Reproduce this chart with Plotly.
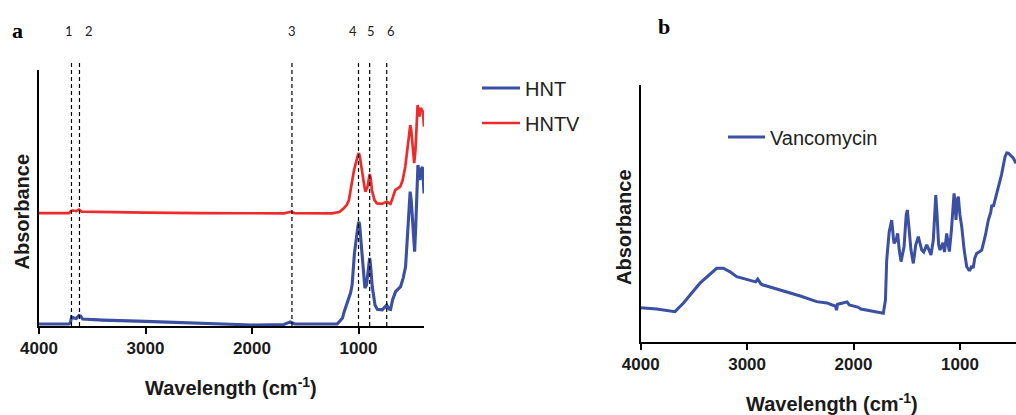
import plotly.graph_objects as go

# ---------------- Panel a: HNT and HNTV FTIR spectra ----------------
hnt_wn = [4000, 3720, 3705, 3695, 3670, 3650, 3625, 3610, 3590, 3400, 3000, 2500,
          2000, 1700, 1640, 1600, 1300, 1200, 1150, 1138, 1106, 1075, 1060, 1038,
          1006, 998, 990, 965, 940, 925, 912, 895, 886, 871, 845, 824, 777, 745,
          735, 712, 699, 680, 652, 605, 580, 558, 535, 515, 505, 495, 473, 462,
          454, 442, 432, 424, 412, 401, 392, 385]
hnt_abs = [0.8, 0.8, 1.2, 3.5, 3.1, 2.9, 4.1, 3.9, 2.7, 2.3, 1.8, 1.0,
           0.4, 0.6, 1.6, 0.8, 0.6, 0.8, 3.1, 5.1, 9.1, 12.9, 16.0, 28.5,
           38.8, 40.7, 39.8, 28.5, 14.8, 16.0, 19.9, 26.6, 23.4, 15.4, 8.2, 6.5, 6.3, 7.8,
           8.2, 6.6, 6.5, 10.2, 13.4, 15.4, 18.8, 23.2, 41.4, 52.5, 49.2, 41.4, 29.0, 39.5,
           50.5, 62.9, 60.2, 57.0, 60.9, 62.2, 57.8, 51.8]

hntv_wn = [4000, 3720, 3700, 3680, 3650, 3625, 3600, 3400, 3000, 2500, 2000, 1700,
           1640, 1600, 1250, 1180, 1138, 1110, 1090, 1080, 1042, 1005, 997, 988,
           970, 950, 936, 915, 895, 886, 874, 850, 827, 780, 745, 735, 715, 700,
           680, 655, 608, 585, 561, 535, 514, 505, 498, 477, 465, 458, 445, 435,
           427, 415, 405, 395, 385]
hntv_abs = [44.1, 44.1, 44.9, 45.1, 44.9, 45.5, 44.7, 44.5, 44.3, 44.1, 43.9, 44.0,
            44.6, 44.1, 44.0, 44.5, 46.0, 47.3, 49.2, 52.0, 60.9, 66.8, 67.5, 66.4,
            62.2, 55.9, 52.5, 54.4, 59.4, 57.8, 53.1, 49.2, 47.9, 47.7, 48.4, 48.6, 48.0, 47.7,
            50.0, 53.1, 54.4, 57.0, 62.2, 72.7, 78.5, 76.6, 72.7, 63.6, 68.8, 76.6, 86.3, 84.4,
            81.8, 85.2, 84.4, 83.6, 77.9]

# marked bands (cm-1) and their numbers
band_wn = [3695, 3620, 1625, 1000, 895, 735]
band_labels = ["1", "2", "3", "4", "5", "6"]
band_label_wn = [3718, 3531, 1624, 1054, 885, 698]

# ---------------- Panel b: vancomycin spectrum ----------------
vanco_wn = [4000, 3850, 3678, 3600, 3443, 3286, 3224, 3160, 3098, 3050, 2973, 2920,
            2900, 2870, 2848, 2750, 2628, 2500, 2346, 2250, 2200, 2170, 2160, 2150,
            2100, 2060, 2040, 2000, 1960, 1930, 1876, 1800, 1720, 1700, 1688, 1665,
            1641, 1625, 1619, 1600, 1585, 1570, 1553, 1525, 1505, 1494, 1480, 1460,
            1438, 1415, 1391, 1375, 1359, 1340, 1312, 1290, 1272, 1250, 1235, 1227,
            1215, 1200, 1187, 1160, 1145, 1124, 1110, 1099, 1080, 1065, 1055, 1045,
            1037, 1025, 1015, 1000, 983, 960, 936, 915, 905, 890, 875, 860, 842, 820,
            795, 760, 733, 710, 700, 686, 660, 639, 610, 576, 560, 545, 520, 500, 473]
vanco_abs = [13.2, 12.7, 11.7, 15.0, 22.8, 28.6, 28.6, 27.2, 25.3, 24.8, 24.0, 23.3,
             24.4, 22.5, 22.1, 20.9, 19.5, 17.8, 15.6, 15.1, 14.3, 13.9, 12.3, 14.6,
             15.1, 15.5, 14.3, 13.9, 13.5, 12.7, 12.3, 11.6, 11.1, 16.2, 31.8, 42.7,
             47.4, 40.4, 38.3, 39.6, 42.2, 35.7, 31.2, 37.0, 49.4, 51.3, 45.5, 35.7,
             30.5, 37.7, 40.9, 37.7, 35.7, 34.9, 37.7, 35.7, 33.8, 39.6, 55.2, 57.1,
             49.4, 37.7, 35.7, 38.5, 34.9, 42.2, 37.7, 35.1, 43.5, 55.2, 57.8, 53.3,
             47.4, 55.2, 56.5, 49.4, 44.8, 35.7, 29.2, 27.9, 27.9, 29.5, 28.7, 32.6, 34.4, 34.9,
             35.7, 41.6, 47.4, 50.5, 53.3, 52.6, 56.8, 60.4, 64.9, 72.1, 73.5, 73.4, 72.3, 71.6, 69.5]

x_ticks = [4000, 3000, 2000, 1000]

BLUE = "#3b4fa3"
RED = "#ee2b2b"
SANS = "Liberation Sans, Arial, sans-serif"
SERIF = "Liberation Serif, Times New Roman, serif"

W, H = 1016, 415


def px_x(p):
    return p / W


def px_y(p):
    return 1 - p / H


fig = go.Figure()

fig.add_trace(go.Scatter(x=hnt_wn, y=hnt_abs, mode="lines", name="HNT",
                         line=dict(color=BLUE, width=3.1), xaxis="x", yaxis="y",
                         legend="legend"))
fig.add_trace(go.Scatter(x=hntv_wn, y=hntv_abs, mode="lines", name="HNTV",
                         line=dict(color=RED, width=2.7), xaxis="x", yaxis="y",
                         legend="legend2"))
fig.add_trace(go.Scatter(x=vanco_wn, y=vanco_abs, mode="lines", name="Vancomycin",
                         line=dict(color=BLUE, width=3.0), xaxis="x2", yaxis="y2",
                         legend="legend3"))

axis_common = dict(
    showline=True, linecolor="black", linewidth=2,
    showgrid=False, zeroline=False, automargin=False,
    ticks="outside", ticklen=6, tickwidth=2, tickcolor="black",
    tickvals=x_ticks, ticktext=[str(t) for t in x_ticks],
    tickfont=dict(family=SANS, size=17, color="#1a1a1a", weight="bold"),
)
yaxis_common = dict(showline=True, linecolor="black", linewidth=2, showgrid=False,
                    zeroline=False, showticklabels=False, ticks="", range=[0, 100],
                    fixedrange=True, automargin=False)

legend_font = dict(family=SANS, size=20, color="#222")

fig.update_layout(
    width=W, height=H,
    margin=dict(l=0, r=0, t=0, b=0, autoexpand=False),
    paper_bgcolor="white", plot_bgcolor="white",
    xaxis=dict(axis_common, domain=[px_x(39), px_x(424)], range=[4000, 385],
               anchor="y"),
    yaxis=dict(yaxis_common, domain=[px_y(326), px_y(70)], anchor="x"),
    xaxis2=dict(axis_common, domain=[px_x(640.7), 1.0], range=[4000, 473],
                anchor="y2"),
    yaxis2=dict(yaxis_common, domain=[px_y(341.7), px_y(85)], anchor="x2"),
    legend=dict(x=px_x(477), y=px_y(88), xanchor="left", yanchor="middle",
                font=legend_font, bgcolor="rgba(0,0,0,0)", itemwidth=38),
    legend2=dict(x=px_x(477), y=px_y(123), xanchor="left", yanchor="middle",
                 font=legend_font, bgcolor="rgba(0,0,0,0)", itemwidth=38),
    legend3=dict(x=px_x(723), y=px_y(137), xanchor="left", yanchor="middle",
                 font=legend_font, bgcolor="rgba(0,0,0,0)", itemwidth=37),
    showlegend=True,
)

# dashed marker lines for the assigned bands
for wn in band_wn:
    fig.add_shape(type="line", xref="x", yref="paper", x0=wn, x1=wn,
                  y0=px_y(326), y1=px_y(60),
                  line=dict(color="black", width=1.2, dash="4px,3px"))

annotations = []
for lab, wn in zip(band_labels, band_label_wn):
    annotations.append(dict(text=lab, x=wn, y=px_y(31), xref="x", yref="paper",
                            showarrow=False, xanchor="center", yanchor="middle",
                            font=dict(family="Lato, sans-serif", size=13, color="#222")))

# panel letters
annotations.append(dict(text="<b>a</b>", x=px_x(17), y=px_y(30), xref="paper", yref="paper",
                        showarrow=False, xanchor="center", yanchor="middle",
                        font=dict(family=SERIF, size=22, color="black")))
annotations.append(dict(text="<b>b</b>", x=px_x(664), y=px_y(26), xref="paper", yref="paper",
                        showarrow=False, xanchor="center", yanchor="middle",
                        font=dict(family=SERIF, size=22, color="black")))

# axis titles
title_font = dict(family=SANS, size=20, color="#1a1a1a", weight="bold")
annotations.append(dict(text="Wavelength (cm<sup>-1</sup>)", x=px_x(231), y=px_y(386),
                        xref="paper", yref="paper", showarrow=False,
                        xanchor="center", yanchor="middle", font=title_font))
annotations.append(dict(text="Wavelength (cm<sup>-1</sup>)", x=px_x(832), y=px_y(402),
                        xref="paper", yref="paper", showarrow=False,
                        xanchor="center", yanchor="middle", font=title_font))
annotations.append(dict(text="Absorbance", x=px_x(21.5), y=px_y(212), textangle=-90,
                        xref="paper", yref="paper", showarrow=False,
                        xanchor="center", yanchor="middle", font=title_font))
annotations.append(dict(text="Absorbance", x=px_x(624), y=px_y(227), textangle=-90,
                        xref="paper", yref="paper", showarrow=False,
                        xanchor="center", yanchor="middle", font=title_font))

fig.update_layout(annotations=annotations)

fig.write_html("out.html")
